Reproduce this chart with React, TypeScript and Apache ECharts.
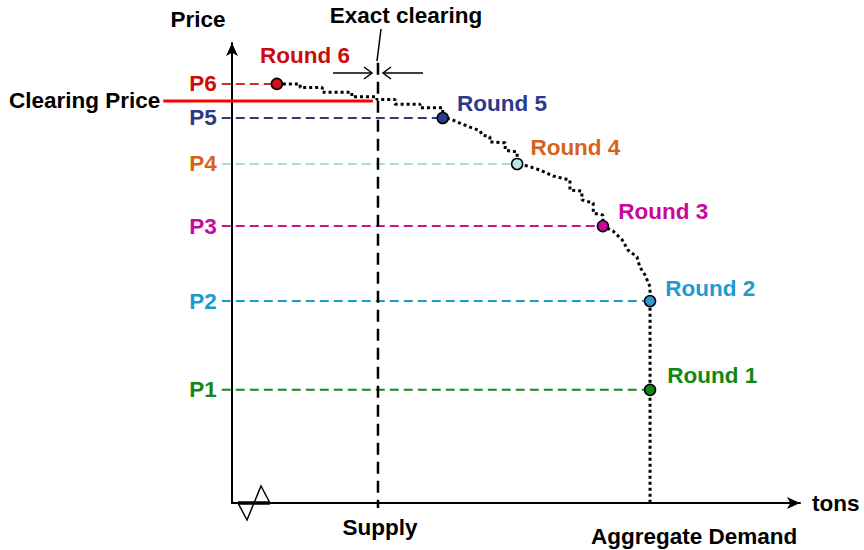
import React, { useEffect, useRef } from 'react';
import * as echarts from 'echarts';

// ---- data (arbitrary units: tons 0..100, price 0..100) ----
const roundNames = ['Round 1', 'Round 2', 'Round 3', 'Round 4', 'Round 5', 'Round 6'];
const priceNames = ['P1', 'P2', 'P3', 'P4', 'P5', 'P6'];
const roundPrices = [24.6, 43.9, 60.2, 73.7, 83.7, 91.1];
const roundQuantities = [73.6, 73.6, 65.3, 50.2, 37.1, 7.9];
const levelStart = -1.8;
const clearingPrice = 87.4;
const clearingLineStart = -12.1;
const clearingLineEnd = 24.8;
const supplyQuantity = 25.7;
const supplyTop = 95.7;
const supplyBottom = -1.1;
const aggregateDemand = 73.6;
const demandCurve: number[][] = [
  [7.9, 91.1], [12.0, 91.1], [12.0, 90.3], [15.9, 90.3], [15.9, 89.3], [21.1, 89.3],
  [21.1, 88.3], [25.5, 88.3], [25.5, 87.7], [28.7, 87.7], [28.7, 86.7], [33.1, 86.7],
  [33.1, 85.9], [37.1, 85.9], [37.1, 83.7],
  [38.4, 83.5], [40.1, 82.6], [41.9, 81.7], [43.7, 80.9], [44.0, 80.0], [45.4, 79.6],
  [45.4, 78.5], [48.1, 78.3], [48.1, 76.7], [50.2, 76.3], [50.2, 73.7],
  [51.9, 73.3], [54.2, 72.4], [56.5, 71.1], [59.5, 70.2], [59.5, 68.0], [61.6, 67.8],
  [61.6, 65.9], [63.6, 65.2], [63.6, 63.0], [65.3, 62.6], [65.3, 60.2],
  [67.1, 59.1], [68.7, 57.2], [69.7, 55.0], [71.3, 53.5], [71.8, 51.3], [72.7, 49.6],
  [73.6, 47.0], [73.6, 43.9], [73.6, 0],
];

// ---- styles ----
const FONT = '"Liberation Sans", Arial, sans-serif';
const FS = 22.5;
const textColors = ['#138613', '#1B9BD1', '#C9089A', '#D8621B', '#2B3A8B', '#CC0A0A'];
const lineColors = ['#148A14', '#1B9BD1', '#CC1199', '#A9DCE0', '#2B3A8B', '#D82828'];
const markerColors = ['#138613', '#2A9BD0', '#C9089A', '#BDE5E8', '#2B3A8B', '#D01010'];
const roundLabelOffsets = [[6, -14], [4, -13], [4, -15], [2, -16], [3, -14], [-28, -28]];

export default function App() {
  const ref = useRef<HTMLDivElement>(null);

  useEffect(() => {
    if (!ref.current) return;
    const chart = echarts.init(ref.current, null, { renderer: 'svg' });

    const txt = (color: string) => ({
      color,
      fontFamily: FONT,
      fontWeight: 'bold' as const,
      fontSize: FS,
      opacity: 1,
    });

    const plotAxes = { xAxisIndex: 1, yAxisIndex: 1 };

    const levelSeries = roundPrices.map((p, i) => ({
      type: 'line',
      ...plotAxes,
      data: [[levelStart, p], [roundQuantities[i], p]],
      symbol: 'none',
      clip: false,
      silent: true,
      z: 2,
      lineStyle: { color: lineColors[i], width: 2, type: [9, 5], opacity: 1 },
    }));

    const hiddenAxis = {
      show: false,
      axisLine: { show: false },
      axisTick: { show: false },
      axisLabel: { show: false },
      splitLine: { show: false },
    };

    const option: any = {
      animation: false,
      backgroundColor: '#ffffff',
      grid: [
        { left: 232, top: 43, right: 64, bottom: 47, containLabel: false, outerBoundsMode: 'none' },
        { left: 118.4, top: 43, right: 64, bottom: 24, containLabel: false, outerBoundsMode: 'none' },
      ],
      xAxis: [
        {
          gridIndex: 0,
          type: 'value',
          min: 0,
          max: 100,
          name: 'tons',
          nameLocation: 'end',
          nameGap: 12,
          nameTextStyle: { ...txt('#000'), padding: [6, 0, 0, 0] },
          axisLine: {
            show: true,
            symbol: ['none', 'arrow'],
            symbolSize: [9, 13],
            lineStyle: { color: '#000', width: 2 },
          },
          axisTick: { show: false },
          axisLabel: { show: false },
          splitLine: { show: false },
        },
        { gridIndex: 1, type: 'value', min: -20, max: 100, ...hiddenAxis },
      ],
      yAxis: [
        {
          gridIndex: 0,
          type: 'value',
          min: 0,
          max: 100,
          axisLine: {
            show: true,
            symbol: ['none', 'arrow'],
            symbolSize: [9, 13],
            lineStyle: { color: '#000', width: 2 },
          },
          axisTick: { show: false },
          axisLabel: { show: false },
          splitLine: { show: false },
        },
        { gridIndex: 1, type: 'value', min: -5, max: 100, ...hiddenAxis },
      ],
      series: [
        ...levelSeries,
        {
          type: 'line',
          ...plotAxes,
          data: demandCurve,
          symbol: 'none',
          clip: false,
          silent: true,
          z: 3,
          lineStyle: { color: '#000', width: 3, type: [3, 3], cap: 'butt', opacity: 1 },
        },
        {
          type: 'line',
          ...plotAxes,
          data: [[supplyQuantity, supplyTop], [supplyQuantity, supplyBottom]],
          symbol: 'none',
          clip: false,
          silent: true,
          z: 3,
          lineStyle: { color: '#000', width: 2.5, type: [12, 7], opacity: 1 },
        },
        {
          type: 'line',
          ...plotAxes,
          data: [[clearingLineStart, clearingPrice], [clearingLineEnd, clearingPrice]],
          symbol: 'none',
          clip: false,
          silent: true,
          z: 4,
          lineStyle: { color: '#FF0000', width: 3, opacity: 1 },
        },
        {
          type: 'scatter',
          ...plotAxes,
          clip: false,
          silent: true,
          z: 5,
          symbolSize: 11,
          data: roundNames.map((name, i) => ({
            name,
            value: [roundQuantities[i], roundPrices[i]],
            itemStyle: { color: markerColors[i], borderColor: '#000', borderWidth: 1.5, opacity: 1 },
            label: {
              show: true,
              position: 'right',
              distance: 5,
              offset: roundLabelOffsets[i],
              formatter: name,
              ...txt(textColors[i]),
            },
          })),
        },
        {
          type: 'scatter',
          ...plotAxes,
          clip: false,
          silent: true,
          z: 5,
          symbolSize: 2,
          itemStyle: { color: 'rgba(0,0,0,0)', opacity: 1 },
          data: [
            ...priceNames.map((name, i) => ({
              name,
              value: [levelStart, roundPrices[i]],
              label: {
                show: true,
                position: 'left',
                distance: 4,
                formatter: name,
                ...txt(textColors[i]),
              },
            })),
            {
              name: 'Clearing Price',
              value: [clearingLineStart, clearingPrice],
              label: {
                show: true,
                position: 'left',
                distance: 2,
                formatter: 'Clearing Price',
                ...txt('#000'),
              },
            },
            {
              name: 'Supply',
              value: [supplyQuantity, 0],
              label: {
                show: true,
                position: 'inside',
                offset: [2, 24],
                formatter: 'Supply',
                ...txt('#000'),
              },
            },
            {
              name: 'Aggregate Demand',
              value: [aggregateDemand, 0],
              label: {
                show: true,
                position: 'inside',
                offset: [44, 33],
                formatter: 'Aggregate Demand',
                ...txt('#000'),
              },
            },
          ],
        },
      ],
      graphic: [
        {
          type: 'text',
          x: 198,
          y: 19,
          style: { text: 'Price', align: 'center', verticalAlign: 'middle', fill: '#000', font: `bold ${FS}px ${FONT}` },
        },
        {
          type: 'text',
          x: 406,
          y: 15,
          style: { text: 'Exact clearing', align: 'center', verticalAlign: 'middle', fill: '#000', font: `bold ${FS}px ${FONT}` },
        },
        { type: 'line', shape: { x1: 381, y1: 29, x2: 377, y2: 61 }, style: { stroke: '#000', lineWidth: 1.5 } },
        { type: 'line', shape: { x1: 333, y1: 73, x2: 372, y2: 73 }, style: { stroke: '#000', lineWidth: 1.5 } },
        { type: 'polyline', shape: { points: [[364, 67], [372, 73], [364, 79]] }, style: { stroke: '#000', lineWidth: 1.5, fill: null } },
        { type: 'line', shape: { x1: 423, y1: 73, x2: 383, y2: 73 }, style: { stroke: '#000', lineWidth: 1.5 } },
        { type: 'polyline', shape: { points: [[391, 67], [383, 73], [391, 79]] }, style: { stroke: '#000', lineWidth: 1.5, fill: null } },
        { type: 'polyline', shape: { points: [[238, 503], [247, 520], [261, 486], [270, 503]] }, style: { stroke: '#000', lineWidth: 1.5, fill: null } },
        { type: 'line', shape: { x1: 238, y1: 503, x2: 270, y2: 503 }, style: { stroke: '#000', lineWidth: 3.5 } },
      ],
    };

    chart.setOption(option);
    return () => chart.dispose();
  }, []);

  return <div ref={ref} style={{ width: 864, height: 550, position: 'fixed', left: 0, top: 0 }} />;
}
